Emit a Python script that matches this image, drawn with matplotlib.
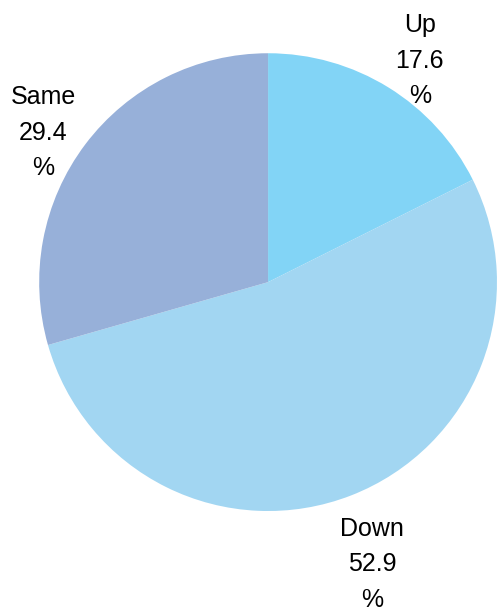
import numpy as np
import matplotlib.pyplot as plt

plt.rcParams['font.family'] = ['Liberation Sans', 'DejaVu Sans']

# share of answers
labels = ['Up', 'Down', 'Same']
shares = [17.6, 52.9, 29.4]
colors = ['#82d4f6', '#a2d6f2', '#97b0d9']
label_dist = [1.18, 1.31, 1.18]
# small nudges (points) so labels clear the rim
nudge = [(7, -6), (-3.5, -2), (-6.5, -9.5)]

fig = plt.figure(figsize=(4.98, 6.12), dpi=100)
ax = fig.add_axes([0.0783, 0.165, 0.92, 0.748])

wedges, _ = ax.pie(shares, colors=colors, startangle=90, counterclock=False,
                   radius=1, wedgeprops=dict(linewidth=0))

for w, lab, val, d, off in zip(wedges, labels, shares, label_dist, nudge):
    mid = np.deg2rad((w.theta1 + w.theta2) / 2)
    ax.annotate(f'{lab}\n{val}\n%', (d * np.cos(mid), d * np.sin(mid)),
                xytext=off, textcoords='offset points',
                ha='center', va='center', fontsize=18, linespacing=1.6,
                annotation_clip=False)

ax.set_xlim(-1, 1)
ax.set_ylim(-1, 1)
ax.set_aspect('equal')
ax.axis('off')

fig.savefig('out.png', dpi=100)
